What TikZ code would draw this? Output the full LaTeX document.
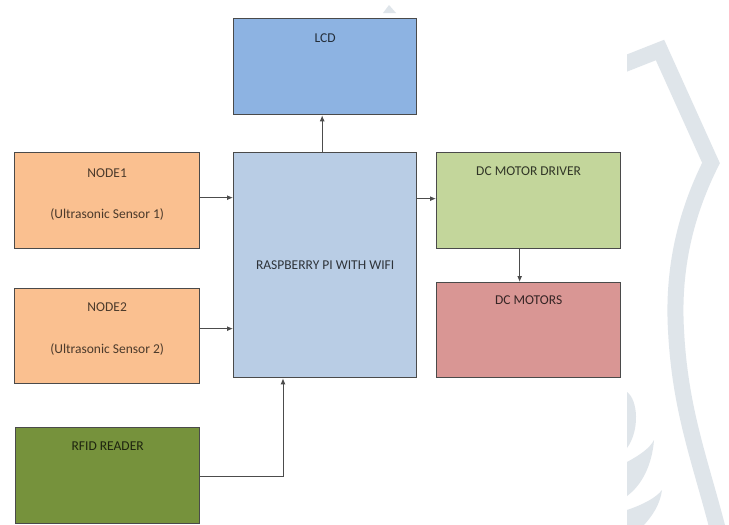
\documentclass[tikz,border=0pt]{standalone}
\usepackage{fontspec}
\setmainfont{Carlito}
\usetikzlibrary{arrows.meta,calc}
\definecolor{lcdblue}{HTML}{8DB3E2}
\definecolor{rpiblue}{HTML}{B9CDE5}
\definecolor{nodeorange}{HTML}{FAC090}
\definecolor{drvgreen}{HTML}{C3D69B}
\definecolor{motred}{HTML}{D99694}
\definecolor{rfidgreen}{HTML}{76923C}
\definecolor{edgegray}{HTML}{4A4A4A}
\definecolor{wmark}{HTML}{DFE5EA}
\tikzset{
  blk/.style={draw=edgegray, line width=1.3pt, anchor=north west, inner sep=0pt},
  lbl/.style={font=\fontsize{13.5}{15}\selectfont, inner sep=0pt, anchor=center},
  arr/.style={draw=black!70, line width=1pt, -{Latex[length=6pt,width=5pt]}},
  wm/.style={draw=wmark, line width=16pt, line cap=butt, line join=miter}
}
\begin{document}
\begin{tikzpicture}[x=1pt,y=-1pt]
\useasboundingbox (0,0) rectangle (729,525);
\fill[white] (0,0) rectangle (729,525);
% watermark
\begin{scope}
\clip (627,0) rectangle (729,525);
\draw[wm] (622,65) -- (660,50) -- (711,163) .. controls (690,205) and (672,260) .. (676,330) .. controls (680,410) and (700,460) .. (718,530);
\fill[wmark] (627,392) .. controls (638,400) and (640,430) .. (627,448) -- cycle;
\fill[wmark] (627,462) .. controls (640,455) and (650,448) .. (654,440) .. controls (652,465) and (642,485) .. (627,496) -- cycle;
\fill[wmark] (627,510) .. controls (642,505) and (656,498) .. (662,490) .. controls (660,505) and (652,516) .. (644,525) -- (627,525) -- cycle;
\end{scope}
\fill[wmark] (383,13) -- (389,5) -- (396,13) -- cycle;
% blocks
\node[blk, fill=lcdblue, minimum width=183pt, minimum height=96pt] (lcd) at (233,18) {};
\node[blk, fill=nodeorange, minimum width=185pt, minimum height=96pt] (n1) at (14,152) {};
\node[blk, fill=nodeorange, minimum width=185pt, minimum height=95pt] (n2) at (14,288) {};
\node[blk, fill=rpiblue, minimum width=183pt, minimum height=225pt] (rpi) at (233,152) {};
\node[blk, fill=drvgreen, minimum width=184pt, minimum height=96pt] (drv) at (436,152) {};
\node[blk, fill=motred, minimum width=184pt, minimum height=95pt] (mot) at (436,282) {};
\node[blk, fill=rfidgreen, minimum width=184pt, minimum height=96pt] (rfid) at (15,427) {};
% labels
\node[lbl, text=black!75!lcdblue] (tlcd) at ($(lcd.north)+(0,20)$) {LCD};
\node[lbl, text=black!70!nodeorange] (tn1a) at ($(n1.north)+(0,21)$) {NODE1};
\node[lbl, text=black!70!nodeorange] (tn1b) at ($(n1.north)+(0,62)$) {(Ultrasonic Sensor 1)};
\node[lbl, text=black!70!nodeorange] (tn2a) at ($(n2.north)+(0,19)$) {NODE2};
\node[lbl, text=black!70!nodeorange] (tn2b) at ($(n2.north)+(0,61)$) {(Ultrasonic Sensor 2)};
\node[lbl, text=black!75!rpiblue] (trpi) at (rpi.center) {RASPBERRY PI WITH WIFI};
\node[lbl, text=black!75!drvgreen] (tdrv) at ($(drv.north)+(0,19)$) {DC MOTOR DRIVER};
\node[lbl, text=black!75!motred] (tmot) at ($(mot.north)+(0,18)$) {DC MOTORS};
\node[lbl, text=black!75!rfidgreen] (trfid) at ($(rfid.north)+(0,19)$) {RFID READER};
% connectors
\draw[arr] ([yshift=3pt]n1.east) -- ([yshift=3pt]n1.east -| rpi.west);
\draw[arr] ([yshift=7.5pt]n2.east) -- ([yshift=7.5pt]n2.east -| rpi.west);
\draw[arr] ([yshift=2pt]drv.west -| rpi.east) -- ([yshift=2pt]drv.west);
\draw[arr] ([xshift=-3pt]rpi.north) -- ([xshift=-3pt]lcd.south);
\draw[arr] ([xshift=-9pt]drv.south) -- ([xshift=-9pt]mot.north);
\coordinate (bend) at (283,476);
\draw[arr] ([yshift=-1pt]rfid.east) -- ([yshift=-1pt]rfid.east -| bend) -- (bend |- rpi.south);
\end{tikzpicture}
\end{document}
